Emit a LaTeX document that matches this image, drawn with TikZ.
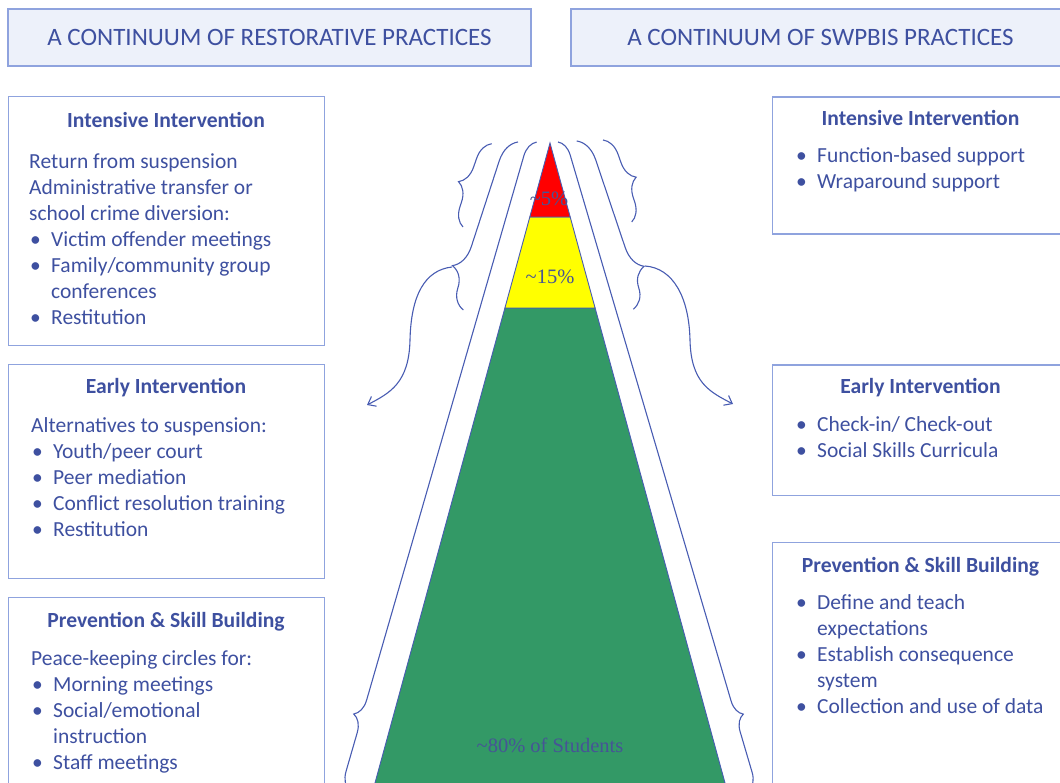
\documentclass[tikz,border=0pt]{standalone}
\usepackage{fontspec}
\setmainfont{Carlito}
\newfontfamily\pctfont{Liberation Serif}
\usetikzlibrary{decorations.pathreplacing,arrows.meta}

\definecolor{txtblue}{RGB}{62,80,160}
\definecolor{pcttxt}{RGB}{70,84,150}
\definecolor{boxline}{RGB}{143,163,222}
\definecolor{headfill}{RGB}{237,241,250}
\definecolor{lineblue}{RGB}{72,92,178}
\definecolor{tipred}{RGB}{255,0,0}
\definecolor{midyellow}{RGB}{255,255,0}
\definecolor{basegreen}{RGB}{51,153,102}

\newcommand{\bul}{\makebox[22pt][l]{\hspace{1pt}\textbullet}}
\newcommand{\ind}{\hspace*{22pt}}

\begin{document}
\begin{tikzpicture}[x=1pt,y=-1pt,
    headbox/.style={draw=boxline,line width=1.2pt,fill=headfill,text=txtblue,
      font=\fontsize{25}{30}\selectfont,minimum height=57pt,inner sep=0pt},
    tierbox/.style={draw=boxline,line width=1.2pt,anchor=north west,inner sep=0pt},
    tierhead/.style={text=txtblue,font=\bfseries\fontsize{21.6}{26}\selectfont,
      anchor=base,inner sep=0pt},
    tiertext/.style={text=txtblue,font=\fontsize{21.5}{26}\selectfont,align=left,
      anchor=north west,inner sep=0pt},
    pct/.style={text=pcttxt,font=\pctfont\fontsize{20.5}{24}\selectfont,inner sep=0pt},
    pyrline/.style={draw=lineblue,line width=0.9pt},
    tierbrace/.style={draw=lineblue,line width=1.1pt,decorate},
    flow/.style={draw=lineblue,line width=1.1pt,-{Straight Barb[length=7pt,width=11pt]}}]
      \useasboundingbox (0,0) rectangle (1060,783);

      \node[headbox,minimum width=523pt] (hdL) at (269.5,37.5)
            {A CONTINUUM OF RESTORATIVE PRACTICES};
      \node[headbox,minimum width=499pt] (hdR) at (820.5,37.5)
            {A CONTINUUM OF SWPBIS PRACTICES};

      \node[tierbox,minimum width=316pt,minimum height=249pt] (lInt) at (8,96) {};
      \node[tierbox,minimum width=316pt,minimum height=214pt] (lEarly) at (8,364) {};
      \node[tierbox,minimum width=316pt,minimum height=200pt] (lPrev) at (8,597) {};
      \node[tierbox,minimum width=297pt,minimum height=137pt] (rInt) at (772,96.5) {};
      \node[tierbox,minimum width=297pt,minimum height=130pt] (rEarly) at (772,364.5) {};
      \node[tierbox,minimum width=297pt,minimum height=260pt] (rPrev) at (772,541.5) {};

      \node[tierhead] (lIntHd) at (166,127.5) {Intensive Intervention};
      \node[tiertext] (lIntTx) at (29,150) {\strut Return from suspension\\
            Administrative transfer or\\
            school crime diversion:\\
            \bul Victim offender meetings\\
            \bul Family/community group\\
            \ind conferences\\
            \bul Restitution};

      \node[tierhead] (lEarlyHd) at (166,394) {Early Intervention};
      \node[tiertext] (lEarlyTx) at (31,414) {\strut Alternatives to suspension:\\
            \bul Youth/peer court\\
            \bul Peer mediation\\
            \bul Conflict resolution training\\
            \bul Restitution};

      \node[tierhead] (lPrevHd) at (166,627.5) {Prevention \& Skill Building};
      \node[tiertext] (lPrevTx) at (31,647) {\strut Peace-keeping circles for:\\
            \bul Morning meetings\\
            \bul Social/emotional\\
            \ind instruction\\
            \bul Staff meetings};

      \node[tierhead] (rIntHd) at (920.5,126) {Intensive Intervention};
      \node[tiertext] (rIntTx) at (795,144.5) {\strut\bul Function-based support\\
            \bul Wraparound support};

      \node[tierhead] (rEarlyHd) at (920.5,394) {Early Intervention};
      \node[tiertext] (rEarlyTx) at (795,413) {\strut\bul Check-in/ Check-out\\
            \bul Social Skills Curricula};

      \node[tierhead] (rPrevHd) at (920.5,572.5) {Prevention \& Skill Building};
      \node[tiertext] (rPrevTx) at (795,591) {\strut\bul Define and teach\\
            \ind expectations\\
            \bul Establish consequence\\
            \ind system\\
            \bul Collection and use of data};

      \draw[pyrline,fill=basegreen] (504.9,308) -- (372.8,791) -- (727.2,791)
            -- (595.1,308) -- cycle;
      \draw[pyrline,fill=midyellow] (529.8,217) -- (504.9,308) -- (595.1,308)
            -- (570.2,217) -- cycle;
      \draw[pyrline,fill=tipred] (550,143) -- (529.8,217) -- (570.2,217) -- cycle;

      \node[pct] (p5) at (549,199) {\textasciitilde5\%};
      \node[pct] (p15) at (550,277) {\textasciitilde15\%};
      \node[pct] (p80) at (550,745) {\textasciitilde80\% of Students};

      \draw[tierbrace,decoration={brace,amplitude=19pt,aspect=0.47}]
            (463,227) -- (491.7,143.7);
      \draw[tierbrace,decoration={brace,amplitude=24pt,aspect=0.22}]
            (463.3,310) -- (518,142);
      \draw[tierbrace,decoration={brace,amplitude=17pt,aspect=0.11}]
            (349.5,790) -- (536.7,142);
      \draw[tierbrace,decoration={brace,amplitude=19pt,aspect=0.53}]
            (603,140) -- (631.7,222);
      \draw[tierbrace,decoration={brace,amplitude=24pt,aspect=0.79}]
            (576.7,141) -- (633.3,309.3);
      \draw[tierbrace,decoration={brace,amplitude=16pt,aspect=0.89}]
            (558,142) -- (749,790);

      \coordinate (cuspL) at (452,267);
      \coordinate (tipL) at (367,405);
      \coordinate (cuspR) at (645,266);
      \coordinate (tipR) at (733,404);
      \draw[flow] (cuspL) .. controls (425,270) and (411,295) .. (410,340)
            .. controls (409,383) and (390,393) .. (tipL);
      \draw[flow] (cuspR) .. controls (673,268) and (689,297) .. (690,340)
            .. controls (691,383) and (710,392) .. (tipR);
\end{tikzpicture}
\end{document}
